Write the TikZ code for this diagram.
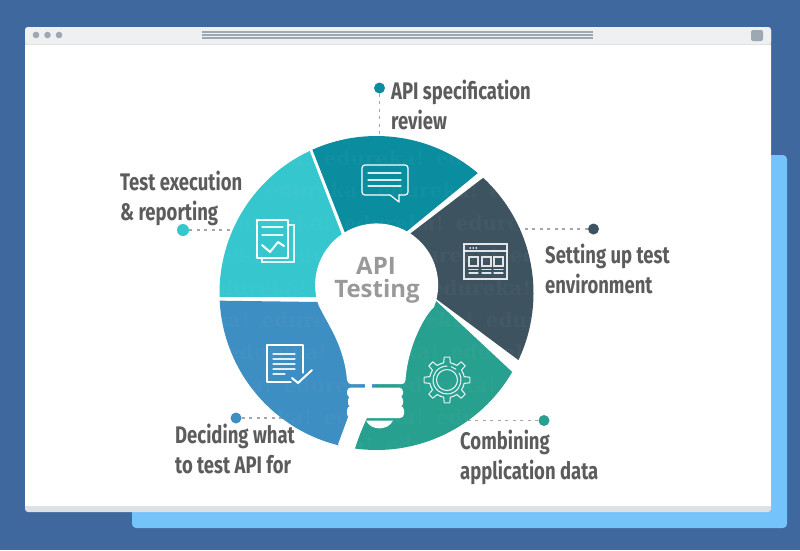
\documentclass[tikz,border=0pt]{standalone}
\usepackage{fontspec}
\usetikzlibrary{calc}
\newfontfamily\labelfont[FakeStretch=0.77]{Fira Sans}
\newfontfamily\centrefont{Open Sans}
\newfontfamily\markfont{DejaVu Serif}
\definecolor{bgblue}{HTML}{3F689E}
\definecolor{skyblue}{HTML}{74C3FB}
\definecolor{barfill}{HTML}{EEF0F2}
\definecolor{barline}{HTML}{DDE1E5}
\definecolor{barmark}{HTML}{9DA8B2}
\definecolor{segteal}{HTML}{0A8D9F}
\definecolor{segdark}{HTML}{3E5360}
\definecolor{seggreen}{HTML}{27A08F}
\definecolor{segblue}{HTML}{3D8EC3}
\definecolor{seglight}{HTML}{35C6CE}
\definecolor{labeltext}{HTML}{5C5C5C}
\tikzset{
  seglabel/.style={font=\labelfont\bfseries\fontsize{24}{30}\selectfont,text=labeltext,align=left,anchor=base west,inner sep=0pt},
  dotnode/.style={circle,minimum size=#1,inner sep=0pt},
  leader/.style={draw=gray!70,line width=1.6pt,dash pattern=on 3pt off 4.5pt},
  icon/.style={draw=white,line width=1.2pt,line join=round,line cap=round},
  iconfine/.style={draw=white,opacity=.85,line width=1.1pt,line cap=round},
  wm/.style={font=\markfont\bfseries\fontsize{20}{20}\selectfont,text=white,opacity=.03,inner sep=0pt},
  bar/.style={draw=barmark,line width=1.5pt}
}
\begin{document}
\begin{tikzpicture}[x=1pt,y=1pt,yscale=-1]
\useasboundingbox (0,0) rectangle (800,550);
\fill[bgblue] (0,0) rectangle (800,550);
\fill[skyblue,rounded corners=4pt] (132,155) rectangle (787,528);
\fill[barline,rounded corners=3pt] (25,27) rectangle (771,512);
\fill[barfill,rounded corners=3pt] (25,27) rectangle (771,44);
\fill[white] (25,44.5) rectangle (771,506);
\fill[barmark] (36,35) circle (3.3) (47.5,35) circle (3.3) (59,35) circle (3.3);
\draw[bar] (202,32) -- (593,32) (202,35) -- (593,35) (202,38) -- (593,38);
\fill[barmark,rounded corners=2pt] (751,30) rectangle (763,41);

% dots and leaders
\node[dotnode=11pt,fill=segteal] (dotA) at (379.5,88) {};
\node[dotnode=11pt,fill=segdark] (dotB) at (593.5,229) {};
\node[dotnode=11pt,fill=seggreen] (dotC) at (544,420.5) {};
\node[dotnode=11pt,fill=segblue] (dotD) at (236,418) {};
\node[dotnode=12pt,fill=seglight] (dotE) at (183,230) {};
\coordinate (endA) at (379.5,140);
\coordinate (endB) at (515,229);
\coordinate (endC) at (465,420.5);
\coordinate (endD) at (295,418);
\coordinate (endE) at (236,230);
\foreach \d/\e in {dotA/endA,dotB/endB,dotC/endC,dotD/endD,dotE/endE}
  \draw[leader] (\d) -- (\e);

% segments
\coordinate (c) at (376.5,293);
\coordinate (mid) at (376,300);
\fill[segteal] (345,233) -- ($(c)+(245.9:157)$) arc[start angle=245.9,end angle=310.2,radius=157] -- (406,232) -- (mid) -- cycle;
\fill[segdark] (411,233) -- ($(c)+(312.8:157)$) arc[start angle=312.8,end angle=385.3,radius=157] -- (435,298) -- (mid) -- cycle;
\fill[seggreen] (433,298) -- ($(c)+(30.2:157)$) arc[start angle=30.2,end angle=98.3,radius=157] -- (366,420) -- (376,400) -- (mid) -- cycle;
\fill[segblue] (318,302) -- ($(c)+(177.2:157)$) arc[start angle=177.2,end angle=104,radius=157] -- (350,415) -- (376,400) -- (mid) -- cycle;
\fill[seglight] (313,297) -- ($(c)+(178.6:157)$) arc[start angle=178.6,end angle=244.8,radius=157] -- (342,235) -- (mid) -- cycle;

% watermark
\begin{scope}
\clip (c) circle (157);
\foreach \row/\yy/\sh in {1/158/0,2/190/-58,3/223/20,4/255/-38,5/288/-5,6/320/-62,7/352/15,8/385/-40,9/417/0,10/445/-50}
  \foreach \k/\xx in {1/150,2/262,3/374,4/486,5/598}
    \node[wm,name=wm\row x\k] at (\xx+\sh,\yy) {edureka!};
\end{scope}

% bulb
\fill[white] (318.5,305)
  arc[start angle=161,end angle=381,radius=61.5]
  .. controls (425,315) and (408,345) .. (405.5,380)
  .. controls (405,383) and (404,384) .. (402,384)
  -- (351,384)
  .. controls (349,384) and (347.5,383) .. (347,380)
  .. controls (344,345) and (328,325) .. (318.5,305) -- cycle;
\fill[white] (365,383) rectangle (372,389);
\fill[white,rounded corners=4pt] (347,387.5) rectangle (403,397.5);
\fill[white,rounded corners=4pt] (348,396) rectangle (403,407.5);
\fill[white,rounded corners=4pt] (347,406) rectangle (404,418);
\fill[white] (352,390) rectangle (399,417);
\fill[white] (350,412) -- (338,444.5) -- (354.5,449.5) -- (366,416) -- cycle;
\fill[white] (366,420.5) .. controls (371,431) and (388,431) .. (393,420.5) -- cycle;
% centre text
\node[font=\centrefont\bfseries\fontsize{24}{24}\selectfont,text=black!40,inner sep=0pt,anchor=base] (apilabel) at (376,274) {API};
\node[font=\centrefont\bfseries\fontsize{24}{24}\selectfont,text=black!40,inner sep=0pt,anchor=base] (testinglabel) at (377,297) {Testing};

% chat icon
\draw[icon,rounded corners=3pt] (390,195) -- (368,195) -- (362,195) -- (362,165) -- (408,165) -- (408,195) -- (399,195);
\draw[icon] (390,195) -- (399,202) -- (399,195);
\draw[iconfine] (368,173) -- (401,173) (368,180) -- (401,180) (368,186) -- (401,186);

% report icon
\draw[icon] (257,220) rectangle (288,258);
\draw[iconfine] (262,258) -- (262,262) -- (294,262) -- (294,225) -- (288,225);
\draw[iconfine] (262,227) -- (283,227) (262,235) -- (283,235);
\draw[draw=white,line width=2pt,line join=round,line cap=round] (262,245) -- (270,252) -- (278,242) -- (284,246);

% window icon
\draw[iconfine] (464,244) rectangle (507,279);
\draw[iconfine] (464,251) -- (507,251);
\draw[iconfine] (470,248) -- (470.5,248) (473,248) -- (473.5,248) (476,248) -- (476.5,248);
\draw[iconfine] (469,257) rectangle (478,266) (482,257) rectangle (491,266) (494,257) rectangle (503,266);
\draw[iconfine] (469,269.5) -- (478,269.5) (482,269.5) -- (491,269.5) (494,269.5) -- (503,269.5);
\draw[iconfine] (469,273) -- (478,273) (482,273) -- (491,273) (494,273) -- (503,273);

% doc-check icon
\draw[icon] (303,373) -- (303,345) -- (267,345) -- (267,382) -- (291,382);
\draw[iconfine] (273,354) -- (295,354) (273,359) -- (295,359) (273,364) -- (295,364) (273,369) -- (295,369) (273,374) -- (285,374);
\draw[draw=white,line width=2pt,line join=round,line cap=round] (292,378) -- (298,383) -- (312,370);

% gear icon
\foreach \a in {0,45,...,315}{
  \begin{scope}[shift={(447,380)},rotate=\a]
    \draw[iconfine,line join=round] (-22.5:17.5) arc[start angle=-22.5,end angle=-11,radius=17.5] -- (-7:23) -- (7:23) -- (11:17.5) arc[start angle=11,end angle=22.5,radius=17.5];
  \end{scope}
}
\draw[iconfine] (447,380) circle (10.5);
\draw[iconfine] ($(447,380)+(-30:14)$) arc[start angle=-30,end angle=270,radius=14];
\draw[iconfine] ($(447,380)+(-72:14)$) arc[start angle=-72,end angle=-50,radius=14];

% labels
\node[seglabel] (lblA) at (391,129) {API specification\\review};
\node[seglabel] (lblB) at (545,293) {Setting up test\\environment};
\node[seglabel] (lblC) at (460,479) {Combining\\application data};
\node[seglabel] (lblD) at (175,473) {Deciding what\\to test API for};
\node[seglabel] (lblE) at (120,220) {Test execution\\\& reporting};
\end{tikzpicture}
\end{document}
